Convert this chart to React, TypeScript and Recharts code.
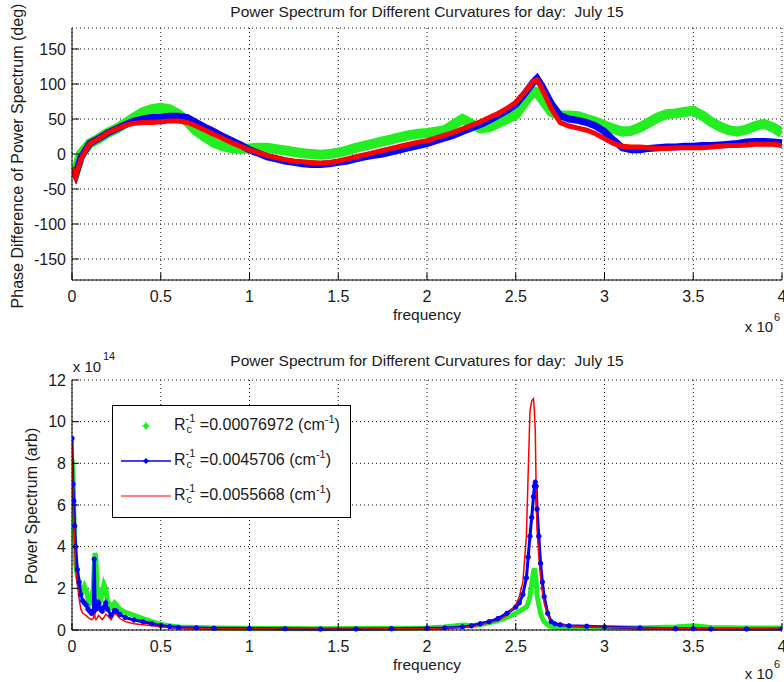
import { CartesianGrid, Line, LineChart, XAxis, YAxis } from "recharts";

// frequency in units of 1e6
const X_TICKS = [0, 0.5, 1, 1.5, 2, 2.5, 3, 3.5, 4];
const PHASE_TICKS = [-150, -100, -50, 0, 50, 100, 150];
const POWER_TICKS = [0, 2, 4, 6, 8, 10, 12];
const CURVATURES = ["0.00076972", "0.0045706", "0.0055668"];
const TITLE = "Power Spectrum for Different Curvatures for day:  July 15";

// top panel: phase difference (deg)
const TOP_FREQ = [
  0, 0.02, 0.05, 0.1, 0.15, 0.2, 0.25, 0.3, 0.35, 0.4,
  0.45, 0.5, 0.55, 0.6, 0.65, 0.7, 0.75, 0.8, 0.85, 0.9,
  0.95, 1.0, 1.05, 1.1, 1.15, 1.2, 1.25, 1.3, 1.35, 1.4,
  1.45, 1.5, 1.55, 1.6, 1.65, 1.7, 1.75, 1.8, 1.85, 1.9,
  1.95, 2.0, 2.05, 2.1, 2.15, 2.2, 2.25, 2.3, 2.35, 2.4,
  2.45, 2.5, 2.55, 2.6, 2.62, 2.65, 2.7, 2.75, 2.8, 2.85,
  2.9, 2.95, 3.0, 3.05, 3.1, 3.15, 3.2, 3.25, 3.3, 3.35,
  3.4, 3.45, 3.5, 3.55, 3.6, 3.65, 3.7, 3.75, 3.8, 3.85,
  3.9, 3.95, 4.0,
];
const TOP_GREEN = [
  -15, -25, 0, 15, 22, 30, 36, 44, 52, 60,
  64, 66, 64, 57, 46, 33, 24, 16, 11, 8,
  7, 8, 9, 9, 7, 5, 3, 1, 0, -1,
  0, 2, 5, 9, 12, 15, 18, 21, 24, 27,
  29, 30, 32, 34, 42, 50, 43, 37, 38, 44,
  50, 56, 74, 90, 88, 78, 60, 55, 55, 54,
  50, 46, 41, 36, 32, 33, 38, 45, 52, 57,
  58, 60, 62, 55, 46, 39, 34, 32, 35, 40,
  43, 38, 30,
];
const TOP_BLUE = [
  -20, -30, -5, 15, 22, 30, 36, 42, 47, 50,
  52, 53, 54, 54, 52, 45, 38, 32, 25, 19,
  13, 6, 1, -4, -7, -10, -12, -14, -15, -15,
  -14, -12, -10, -7, -4, -2, 0, 3, 6, 9,
  12, 15, 19, 23, 27, 32, 37, 42, 48, 55,
  62, 71, 86, 103, 108, 96, 72, 55, 50, 48,
  45, 40, 32, 20, 9, 6, 6, 8, 9, 10,
  10, 11, 11, 12, 12, 13, 14, 15, 17, 18,
  18, 17, 16,
];
const TOP_RED = [
  -20, -33, -7, 15, 22, 30, 36, 41, 44, 45,
  45, 46, 47, 47, 45, 40, 34, 28, 22, 16,
  11, 6, 2, -2, -5, -8, -10, -11, -12, -13,
  -12, -10, -7, -4, -1, 2, 5, 8, 11, 14,
  17, 19, 23, 27, 31, 36, 41, 46, 52, 58,
  65, 74, 88, 104, 106, 92, 65, 45, 40, 37,
  34, 29, 22, 15, 11, 10, 10, 9, 8, 8,
  9, 9, 9, 9, 10, 11, 12, 12, 13, 14,
  14, 14, 12,
];

// bottom panel: power spectrum (units of 1e14)
const BOTTOM_FREQ = [
  0, 0.005, 0.01, 0.015, 0.02, 0.03, 0.04, 0.05, 0.06, 0.07,
  0.08, 0.09, 0.1, 0.11, 0.12, 0.125, 0.13, 0.135, 0.14, 0.15,
  0.16, 0.17, 0.18, 0.19, 0.2, 0.22, 0.24, 0.25, 0.27, 0.3,
  0.35, 0.4, 0.45, 0.5, 0.55, 0.6, 0.7, 0.8, 1.0, 1.2,
  1.4, 1.6, 1.8, 2.0, 2.1, 2.2, 2.25, 2.3, 2.35, 2.4,
  2.45, 2.5, 2.52, 2.54, 2.56, 2.57, 2.58, 2.59, 2.6, 2.605,
  2.61, 2.615, 2.62, 2.63, 2.64, 2.65, 2.66, 2.68, 2.7, 2.72,
  2.75, 2.8, 2.9, 3.0, 3.2, 3.4, 3.5, 3.6, 3.8, 4.0,
];
const BOTTOM_GREEN = [
  8.2, 7.8, 5.8, 4.3, 3.2, 2.6, 2.2, 1.8, 1.9, 2.1,
  1.9, 1.5, 1.3, 1.5, 2.0, 3.0, 3.7, 3.4, 2.2, 1.5,
  1.4, 1.8, 2.2, 2.0, 1.4, 1.1, 1.3, 1.2, 1.0, 0.85,
  0.7, 0.55, 0.4, 0.28, 0.2, 0.15, 0.12, 0.1, 0.08, 0.07,
  0.06, 0.07, 0.08, 0.1, 0.14, 0.24, 0.22, 0.25, 0.35, 0.45,
  0.6, 0.8, 0.9, 1.0, 1.1, 1.3, 1.6, 2.2, 2.8, 2.95,
  2.7, 2.3, 1.7, 1.2, 0.8, 0.55, 0.4, 0.25, 0.15, 0.12,
  0.12, 0.12, 0.12, 0.12, 0.1, 0.14, 0.2, 0.12, 0.1, 0.1,
];
const BOTTOM_BLUE = [
  9.2, 7.0, 6.2, 5.0, 4.0, 2.9, 2.3, 1.7, 1.4, 1.3,
  1.2, 1.0, 0.9, 0.8, 0.9, 3.4, 1.4, 1.0, 1.1, 1.3,
  1.0, 0.9, 1.1, 1.3, 1.0, 0.7, 0.95, 0.9, 0.75, 0.6,
  0.48, 0.4, 0.3, 0.22, 0.16, 0.12, 0.1, 0.08, 0.07, 0.06,
  0.05, 0.05, 0.06, 0.08, 0.1, 0.15, 0.2, 0.3, 0.4, 0.55,
  0.8, 1.1, 1.3, 1.7, 2.5, 3.5, 4.5, 5.4, 6.4, 6.9,
  7.1, 6.9, 5.8, 4.5, 3.2, 2.3, 1.6, 0.8, 0.4, 0.3,
  0.25, 0.2, 0.18, 0.15, 0.1, 0.06, 0.06, 0.05, 0.05, 0.05,
];
const BOTTOM_RED = [
  9.0, 6.5, 5.2, 4.0, 3.0, 2.2, 1.5, 1.0, 0.8, 0.75,
  0.7, 0.6, 0.55, 0.5, 0.55, 0.9, 0.6, 0.5, 0.55, 0.7,
  0.6, 0.5, 0.6, 0.75, 0.7, 0.5, 0.8, 0.75, 0.55, 0.4,
  0.3, 0.25, 0.2, 0.15, 0.12, 0.1, 0.08, 0.07, 0.06, 0.05,
  0.05, 0.05, 0.06, 0.07, 0.09, 0.13, 0.16, 0.25, 0.35, 0.45,
  0.7, 1.2, 1.6, 2.3, 4.5, 7.5, 10.5, 11.0, 11.1, 10.5,
  9.6, 6.7, 4.8, 3.5, 2.5, 1.8, 1.3, 0.7, 0.45, 0.32,
  0.25, 0.2, 0.16, 0.13, 0.1, 0.08, 0.07, 0.06, 0.06, 0.05,
];

const FONT = '"Liberation Sans", Arial, Helvetica, sans-serif';
const INK = "#1a1a1a";
const GREEN = "#22ee22";
const BLUE = "#0000ff";
const RED = "#ff0000";

const toPoints = (freq: number[], vals: number[]) =>
  freq.map((f, i) => ({ f, v: vals[i] }));

// matlab-style ticks: small inward mark + label
function XTick(props: any) {
  const { x, y, payload } = props;
  return (
    <g>
      <line x1={x} x2={x} y1={y - 10} y2={y - 17} stroke="#000" />
      <text x={x} y={y + 11.5} textAnchor="middle" fontSize={16} fill={INK} fontFamily={FONT}>
        {payload.value}
      </text>
    </g>
  );
}

function YTick(props: any) {
  const { x, y, payload } = props;
  return (
    <g>
      <line x1={x + 6} x2={x + 13} y1={y} y2={y} stroke="#000" />
      <text x={x} y={y + 5.7} textAnchor="end" fontSize={16} fill={INK} fontFamily={FONT}>
        {payload.value}
      </text>
    </g>
  );
}

function Txt({ x, y, size = 16, rotate = 0, children }: any) {
  return (
    <div
      style={{
        position: "absolute",
        left: x,
        top: y,
        transform: `translate(-50%, -50%) rotate(${rotate}deg)`,
        fontSize: size,
        color: INK,
        whiteSpace: "pre",
        lineHeight: 1,
      }}
    >
      {children}
    </div>
  );
}

function RcLabel({ value }: { value: string }) {
  return (
    <span style={{ whiteSpace: "nowrap", fontSize: 16, color: INK }}>
      R
      <span
        style={{
          display: "inline-block",
          verticalAlign: "middle",
          fontSize: 11,
          lineHeight: "11px",
          position: "relative",
          top: -2,
        }}
      >
        <span style={{ display: "block" }}>-1</span>
        <span style={{ display: "block", marginLeft: 1 }}>c</span>
      </span>
      {` =${value} (cm`}
      <span style={{ fontSize: 11, position: "relative", top: -7 }}>-1</span>)
    </span>
  );
}

const gridProps = { stroke: "#111", strokeDasharray: "1 3" };

export default function App() {
  const topGreen = toPoints(TOP_FREQ, TOP_GREEN);
  const topBlue = toPoints(TOP_FREQ, TOP_BLUE);
  const topRed = toPoints(TOP_FREQ, TOP_RED);
  const botGreen = toPoints(BOTTOM_FREQ, BOTTOM_GREEN);
  const botBlue = toPoints(BOTTOM_FREQ, BOTTOM_BLUE);
  const botRed = toPoints(BOTTOM_FREQ, BOTTOM_RED);

  const xAxisProps = {
    type: "number" as const,
    dataKey: "f",
    domain: [0, 4],
    ticks: X_TICKS,
    interval: 0,
    height: 30,
    tickSize: 0,
    tickMargin: 10,
    tickLine: false,
    axisLine: { stroke: "#000" },
    tick: XTick,
    allowDataOverflow: true,
  };

  return (
    <div
      style={{
        position: "absolute",
        left: 0,
        top: 0,
        width: 784,
        height: 682,
        background: "#fff",
        fontFamily: FONT,
        overflow: "hidden",
      }}
    >
      <div style={{ position: "absolute", left: 0, top: 0 }}>
        <LineChart width={784} height={310} margin={{ top: 28, right: 2, bottom: 0, left: 0 }}>
          <CartesianGrid {...gridProps} />
          <XAxis {...xAxisProps} />
          <YAxis
            type="number"
            domain={[-180, 180]}
            ticks={PHASE_TICKS}
            interval={0}
            width={72}
            tickSize={0}
            tickMargin={6}
            tickLine={false}
            axisLine={{ stroke: "#000" }}
            tick={YTick}
          />
          <Line data={topGreen} dataKey="v" stroke={GREEN} strokeWidth={10} dot={false} activeDot={false} isAnimationActive={false} />
          <Line data={topBlue} dataKey="v" stroke={BLUE} strokeWidth={7} dot={false} activeDot={false} isAnimationActive={false} />
          <Line data={topRed} dataKey="v" stroke={RED} strokeWidth={5} dot={false} activeDot={false} isAnimationActive={false} />
        </LineChart>
      </div>

      <div style={{ position: "absolute", left: 0, top: 350 }}>
        <LineChart width={784} height={310} margin={{ top: 30, right: 2, bottom: 0, left: 0 }}>
          <CartesianGrid {...gridProps} />
          <XAxis {...xAxisProps} />
          <YAxis
            type="number"
            domain={[0, 12]}
            ticks={POWER_TICKS}
            interval={0}
            width={72}
            tickSize={0}
            tickMargin={6}
            tickLine={false}
            axisLine={{ stroke: "#000" }}
            tick={YTick}
          />
          <Line data={botGreen} dataKey="v" stroke={GREEN} strokeWidth={5} dot={false} activeDot={false} isAnimationActive={false} />
          <Line
            data={botBlue}
            dataKey="v"
            stroke={BLUE}
            strokeWidth={3}
            dot={{ r: 2.2, fill: BLUE, stroke: BLUE, strokeWidth: 1 }}
            activeDot={false}
            isAnimationActive={false}
          />
          <Line data={botRed} dataKey="v" stroke={RED} strokeWidth={1.5} dot={false} activeDot={false} isAnimationActive={false} />
        </LineChart>
      </div>

      {/* titles and axis labels */}
      <Txt x={427} y={12} size={15.5}>{TITLE}</Txt>
      <Txt x={427} y={361} size={15.5}>{TITLE}</Txt>
      <Txt x={427} y={315} size={15.5}>frequency</Txt>
      <Txt x={427} y={665} size={15.5}>frequency</Txt>
      <Txt x={18} y={156} size={16} rotate={-90}>Phase Difference of Power Spectrum (deg)</Txt>
      <Txt x={32} y={506} size={16} rotate={-90}>Power Spectrum (arb)</Txt>
      <Txt x={759} y={326} size={15}>x 10</Txt>
      <Txt x={777} y={317} size={11}>6</Txt>
      <Txt x={759} y={673} size={15}>x 10</Txt>
      <Txt x={777} y={664} size={11}>6</Txt>
      <Txt x={87} y={366} size={15}>x 10</Txt>
      <Txt x={109} y={356} size={11}>14</Txt>

      {/* legend */}
      <div
        style={{
          position: "absolute",
          left: 112,
          top: 405,
          width: 237,
          height: 111,
          border: "1px solid #000",
          background: "#fff",
        }}
      >
        <svg width={70} height={111} style={{ position: "absolute", left: 0, top: 0 }}>
          <circle cx={33} cy={20} r={2.6} fill={GREEN} />
          <path d="M33 16 L33 24 M29 20 L37 20" stroke={GREEN} strokeWidth={1.2} />
          <line x1={8} x2={58} y1={55} y2={55} stroke={BLUE} strokeWidth={1.5} />
          <path d="M33 52 L36 55 L33 58 L30 55 Z" fill={BLUE} />
          <line x1={8} x2={58} y1={90} y2={90} stroke={RED} strokeWidth={1.2} />
        </svg>
        {CURVATURES.map((c, i) => (
          <div
            key={c}
            style={{ position: "absolute", left: 61, top: 20 + i * 35, transform: "translateY(-50%)", lineHeight: 1 }}
          >
            <RcLabel value={c} />
          </div>
        ))}
      </div>
    </div>
  );
}
